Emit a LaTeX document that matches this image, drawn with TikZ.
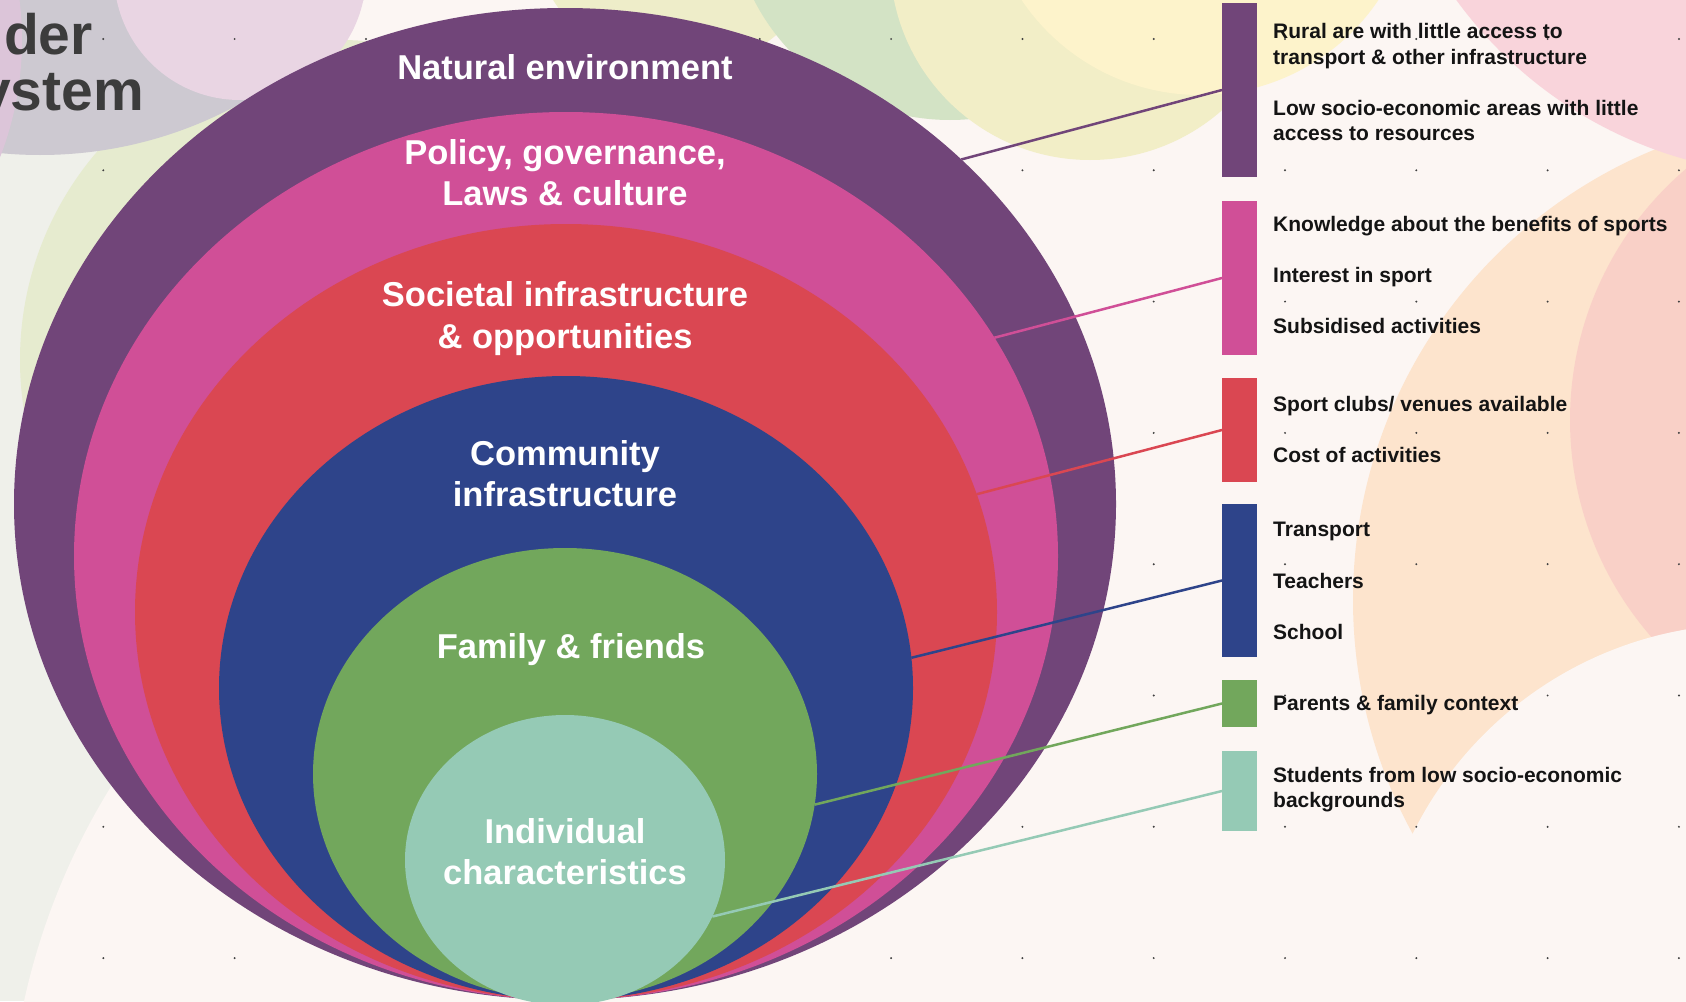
\documentclass[tikz,border=0pt]{standalone}
\usepackage{fontspec}
\setmainfont{Liberation Sans}
\usetikzlibrary{shapes.geometric}
\definecolor{cpurple}{HTML}{714579}
\definecolor{cpink}{HTML}{D04F97}
\definecolor{cred}{HTML}{DA4752}
\definecolor{cblue}{HTML}{2E448A}
\definecolor{cgreen}{HTML}{72A75C}
\definecolor{cmint}{HTML}{95CAB5}
\definecolor{bgbase}{HTML}{FCF6F3}
\definecolor{bgside}{HTML}{EFF0EA}
\definecolor{bglgreen}{HTML}{E6EBCF}
\definecolor{bggreen}{HTML}{D3E3C5}
\definecolor{bgygreen}{HTML}{EEEDC9}
\definecolor{bgyellow}{HTML}{F2EEC7}
\definecolor{bgpyellow}{HTML}{FDF3CB}
\definecolor{bggray}{HTML}{CDC9D1}
\definecolor{bglav}{HTML}{E9D5E3}
\definecolor{bgpstrip}{HTML}{DCC5D9}
\definecolor{bgorange}{HTML}{FDE4CD}
\definecolor{bgpink}{HTML}{F9D4DB}
\definecolor{bgpinkmid}{HTML}{F6B9C0}
\definecolor{legtext}{HTML}{141414}
\definecolor{titletext}{HTML}{3C3C3C}
\begin{document}
\begin{tikzpicture}[x=1pt,y=-1pt,
  layer/.style={ellipse, inner sep=0pt, outer sep=0pt, draw=none},
  barbox/.style={rectangle, inner sep=0pt, outer sep=0pt, minimum width=35pt, draw=none},
  lbl/.style={text=white, font=\fontsize{34.5}{41}\selectfont\bfseries, inner sep=0pt, anchor=base},
  leg/.style={text=legtext, font=\fontsize{21}{26}\selectfont\bfseries, inner sep=0pt, anchor=base west},
  ttl/.style={text=titletext, font=\fontsize{57}{55}\selectfont\bfseries, inner sep=0pt, anchor=base east},
  conn/.style={line width=2.5pt},
  bgdot/.style={fill=black!75}]
\useasboundingbox (0,0) rectangle (1686,1001);
\clip (0,0) rectangle (1686,1001);
% background
\fill[bgbase] (0,0) rectangle (1686,1001);
\fill[bgside] (0,0) rectangle (300,1001);
\fill[bgbase] (700,1150) circle[radius=692];
\fill[bglgreen] (340,360) circle[radius=320];
\fill[bgygreen] (680,-80) circle[radius=150];
\fill[bggreen] (950,-100) circle[radius=220];
\fill[bgyellow] (1090,-40) circle[radius=200];
\fill[bgpyellow] (1200,-120) circle[radius=215];
\fill[bggray] (40,-260) circle[radius=415];
\fill[bglav] (240,-26) circle[radius=126];
\fill[bgpstrip] (-300,40) circle[radius=322];
\fill[bgorange] (1840,600) circle[radius=487];
\fill[bgpinkmid, fill opacity=0.45] (1900,420) circle[radius=330];
\fill[bgbase] (1750,1000) circle[radius=376];
\fill[bgpink] (1800,-250) circle[radius=425];
% dots
\foreach \i in {0,...,12} {\foreach \j in {0,...,7} {\fill[bgdot] (103.3+131.3*\i, 39+131.3*\j) circle[radius=1.1];}}
% title fragment
\node[ttl] (tt1) at (93,54) {der};
\node[ttl] (tt2) at (144,110) {ystem};
% ellipses
\node[layer, fill=cpurple, minimum width=1102pt, minimum height=992pt] (e1) at (565,504) {};
\node[layer, fill=cpink, minimum width=984pt, minimum height=888pt] (e2) at (566,556) {};
\node[layer, fill=cred, minimum width=862pt, minimum height=776pt] (e3) at (566,612) {};
\node[layer, fill=cblue, minimum width=694pt, minimum height=624pt] (e4) at (566,688) {};
\node[layer, fill=cgreen, minimum width=504pt, minimum height=452pt] (e5) at (565,774) {};
\node[layer, fill=cmint, minimum width=320pt, minimum height=290pt] (e6) at (565,860) {};
% legend bars
\node[barbox, fill=cpurple, minimum height=174pt] (b1) at (1239.5,90) {};
\node[barbox, fill=cpink, minimum height=154pt] (b2) at (1239.5,278) {};
\node[barbox, fill=cred, minimum height=104pt] (b3) at (1239.5,430) {};
\node[barbox, fill=cblue, minimum height=153pt] (b4) at (1239.5,580.5) {};
\node[barbox, fill=cgreen, minimum height=47pt] (b5) at (1239.5,703.5) {};
\node[barbox, fill=cmint, minimum height=80pt] (b6) at (1239.5,791) {};
% connectors
\draw[conn, draw=cpurple] (e1.41) -- (b1.west);
\draw[conn, draw=cpink] (e2.27) -- (b2.west);
\draw[conn, draw=cred] (e3.16) -- (b3.west);
\draw[conn, draw=cblue] (e4.5) -- (b4.west);
\draw[conn, draw=cgreen] (e5.-7) -- (b5.west);
\draw[conn, draw=cmint] (e6.-21) -- (b6.west);
% layer labels
\node[lbl] (l1) at (565,79) {Natural environment};
\node[lbl] (l2a) at (565,164) {Policy, governance,};
\node[lbl] (l2b) at (565,205) {Laws \& culture};
\node[lbl] (l3a) at (565,306) {Societal infrastructure};
\node[lbl] (l3b) at (565,348) {\& opportunities};
\node[lbl] (l4a) at (565,465) {Community};
\node[lbl] (l4b) at (565,506) {infrastructure};
\node[lbl] (l5) at (571,658) {Family \& friends};
\node[lbl] (l6a) at (565,843) {Individual};
\node[lbl] (l6b) at (565,884) {characteristics};
% legend texts
\node[leg] (t1a) at (1273,38) {Rural are with little access to};
\node[leg] (t1b) at (1273,64) {transport \& other infrastructure};
\node[leg] (t1c) at (1273,115) {Low socio-economic areas with little};
\node[leg] (t1d) at (1273,140) {access to resources};
\node[leg] (t2a) at (1273,231) {Knowledge about the benefits of sports};
\node[leg] (t2b) at (1273,282) {Interest in sport};
\node[leg] (t2c) at (1273,333) {Subsidised activities};
\node[leg] (t3a) at (1273,411) {Sport clubs/ venues available};
\node[leg] (t3b) at (1273,462) {Cost of activities};
\node[leg] (t4a) at (1273,536) {Transport};
\node[leg] (t4b) at (1273,588) {Teachers};
\node[leg] (t4c) at (1273,639) {School};
\node[leg] (t5) at (1273,710) {Parents \& family context};
\node[leg] (t6a) at (1273,782) {Students from low socio-economic};
\node[leg] (t6b) at (1273,807) {backgrounds};
\end{tikzpicture}
\end{document}
